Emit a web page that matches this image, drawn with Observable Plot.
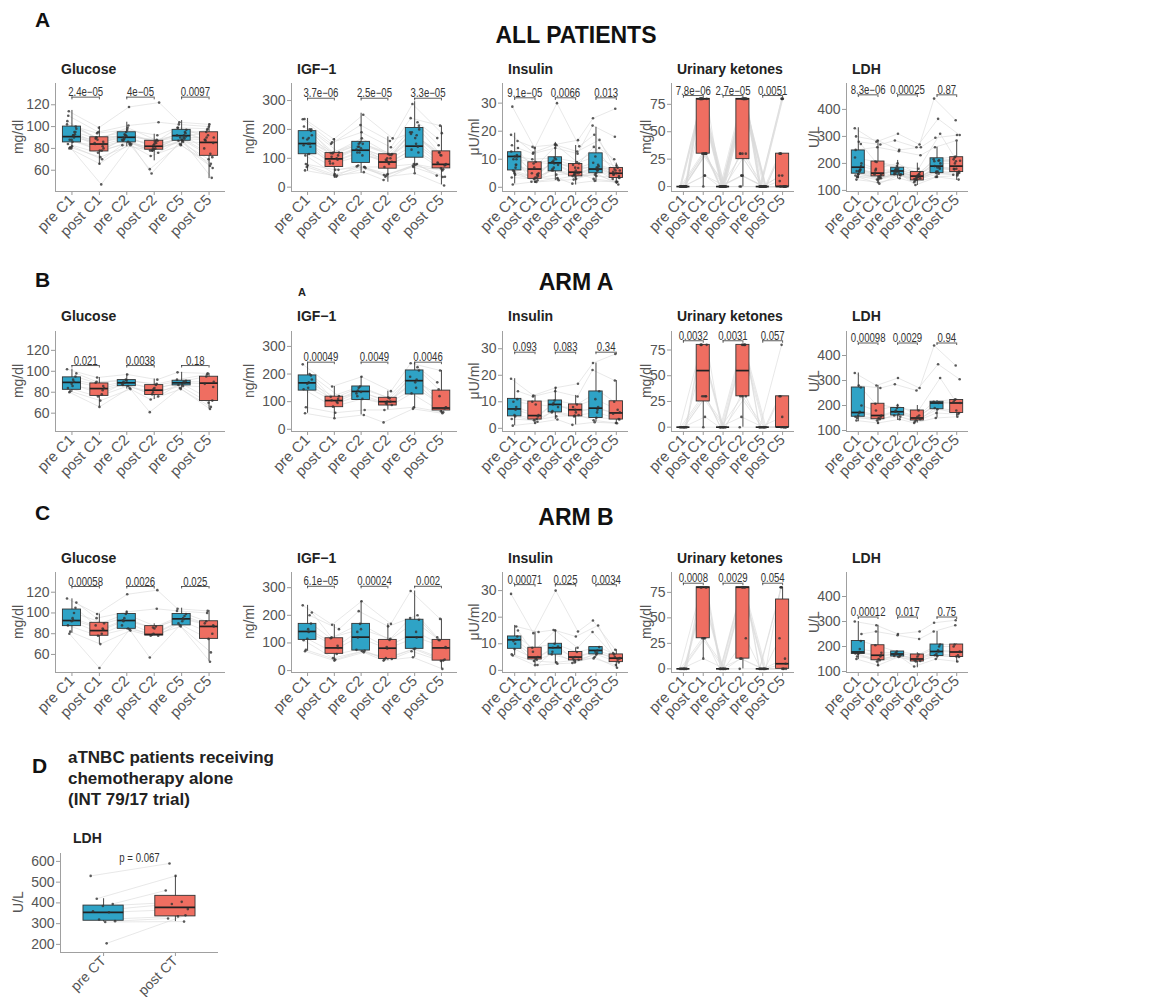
<!DOCTYPE html>
<html>
<head>
<meta charset="utf-8">
<script src="https://cdn.jsdelivr.net/npm/d3@7"></script>
<script src="https://cdn.jsdelivr.net/npm/@observablehq/plot@0.6"></script>
<style>
  body { margin: 0; background: #fff; }
  #fig { position: relative; width: 1153px; height: 997px; overflow: hidden; background: #fff;
         font-family: "Liberation Sans", Arial, Helvetica, sans-serif; }
  .panel { position: absolute; }
  .panel svg { overflow: visible; background: transparent; }
  .panel svg g[aria-label="x-axis tick label"], .panel svg g[aria-label="x-axis"] text { font-size: 15px; }
  .panel.small svg g[aria-label="x-axis tick label"], .panel.small svg g[aria-label="x-axis"] text { font-size: 14px; }
  .panel svg g[aria-label="y-axis tick label"], .panel svg g[aria-label="y-axis"] text { font-size: 14px; }
  .panel svg g[aria-label="x-axis tick"] path, .panel svg g[aria-label="y-axis tick"] path,
  .panel svg g[aria-label="x-axis"] line, .panel svg g[aria-label="y-axis"] line { stroke: #9a9a9a; }
  #overlay { position: absolute; left: 0; top: 0; pointer-events: none; }
</style>
</head>
<body>
<div id="fig"></div>
<script>
// ---- categories and labels ----
const timepoints = ["pre C1", "post C1", "pre C2", "post C2", "pre C5", "post C5"];
const timepointsD = ["pre CT", "post CT"];
const cohortNames = ["ALL PATIENTS", "ARM A", "ARM B"];
const cohortLetters = ["A", "B", "C"];
const markerNames = ["Glucose", "IGF−1", "Insulin", "Urinary ketones", "LDH"];
const markerUnits = ["mg/dl", "ng/ml", "μU/ml", "mg/dl", "U/L"];
const markerTicks = [[60, 80, 100, 120], [0, 100, 200, 300], [0, 10, 20, 30], [0, 25, 50, 75], [100, 200, 300, 400]];
const ldhTicksD = [200, 300, 400, 500, 600];

// ---- box summaries: [lower whisker, Q1, median, Q3, upper whisker] per time point ----
const glucoseAllBox = [[79.4, 85.5, 90.8, 100, 114.8], [65, 77.2, 84, 90.2, 100], [81.5, 85.5, 90.2, 94.8, 104], [68.6, 78.8, 82, 87, 93], [82, 87, 91.7, 97, 105.5], [52.3, 73.2, 85.5, 94.8, 102.5]];
const igf1AllBox = [[55, 114, 151, 194, 238], [30, 70, 98, 118, 168], [48, 84, 128, 157, 256], [17, 64, 87, 114, 174], [50, 102, 142, 205, 296], [8, 65, 79, 124, 212]];
const insulinAllBox = [[1.2, 6, 11, 12.5, 19.3], [1.4, 3, 6.5, 8.9, 14.3], [2.4, 5.7, 8.7, 10.7, 16], [0.8, 3.9, 5.4, 8.3, 14.9], [1.8, 5, 6.5, 12.1, 21.4], [1, 3.3, 5, 6.9, 8.6]];
const ketonesAllBox = [[0, 0, 0, 0, 0], [0, 30, 80, 80, 80], [0, 0, 0, 0, 0], [0, 25, 80, 80, 80], [0, 0, 0, 0, 0], [0, 0, 0, 30, 30]];
const ldhAllBox = [[143, 162, 186, 248, 332], [131, 152, 164, 207, 285], [143, 156, 172, 184, 211], [118, 137, 153, 168, 201], [146, 164, 190, 219, 260], [137, 168, 190, 223, 280]];

const glucoseArmABox = [[80, 82.3, 89.4, 94.2, 102], [66, 76.5, 83.5, 88.4, 94], [83, 85.8, 89, 91.6, 97.4], [73, 77.4, 82, 86.8, 92.6], [83, 86.5, 89, 91, 99], [64, 71.6, 88.7, 94.8, 98]];
const igf1ArmABox = [[58, 140, 168, 195, 237], [40, 80, 104, 118, 155], [52, 106, 137, 155, 191], [70, 86, 100, 114, 138], [74, 126, 176, 213, 239], [58, 68, 77, 140, 213]];
const insulinArmABox = [[1, 4.5, 7.3, 11.1, 18.7], [2, 3.3, 4.8, 10.1, 12.4], [3.3, 6, 9, 10.5, 15.3], [1.3, 4.5, 7, 9, 12.4], [2.3, 3.9, 7.6, 13.9, 24.6], [1.9, 3.3, 5.8, 10.2, 18]];
const ketonesArmABox = [[0, 0, 0, 0, 0], [0, 25, 55, 80, 80], [0, 0, 0, 0, 0], [0, 30, 55, 80, 80], [0, 0, 0, 0, 0], [0, 0, 0, 30, 30]];
const ldhArmABox = [[135, 155, 172, 272, 330], [125, 145, 160, 207, 280], [140, 160, 175, 190, 205], [130, 140, 150, 180, 200], [150, 185, 210, 215, 220], [155, 170, 210, 222, 225]];

const glucoseArmBBox = [[80.5, 87.3, 92.7, 103.3, 113.6], [70, 78, 83, 90.5, 99], [83.7, 84.7, 92.7, 99, 101.7], [78, 78.3, 79.3, 87.3, 89.5], [87.3, 88, 94.3, 99, 104.6], [53.3, 75, 87, 92, 102.4]];
const igf1ArmBBox = [[70, 111, 141.5, 169, 236], [36, 60.5, 82, 117, 166], [66, 72.5, 121, 169, 251], [36, 42, 81, 111, 169], [48, 78.6, 121, 184, 288], [6, 36, 82, 111, 187]];
const insulinArmBBox = [[5.6, 8.1, 11.5, 12.75, 16.9], [1.9, 4.1, 5, 8.5, 14.4], [2.5, 5.9, 8.5, 10, 15.2], [2.75, 3.75, 5, 6.9, 8.5], [5, 6, 7.5, 8.75, 8.75], [1, 3.1, 4.6, 6, 7.75]];
const ketonesArmBBox = [[0, 0, 0, 0, 0], [10, 30, 80, 80, 80], [0, 0, 0, 0, 0], [0, 10, 80, 80, 80], [0, 0, 0, 0, 0], [0, 0, 5, 68, 80]];
const ldhArmBBox = [[148, 170, 178, 222, 300], [120, 145, 165, 205, 285], [155, 160, 170, 180, 180], [115, 140, 150, 168, 175], [150, 162, 180, 208, 260], [135, 158, 178, 208, 210]];

const ldhChemoBox = [[308, 314, 354, 387, 420], [310, 335, 378, 434, 530]];

// ---- individual patient values per time point (same position = same patient) ----
const glucoseArmAPts = [[102, 92, 80, 95, 88, 84, 90, 81, 98, 86], [94, 86, 66, 89, 78, 76, 84, 72, 90, 82], [97, 90, 84, 92, 88, 86, 89, 83, 91, 87], [92, 83, 61, 87, 78, 76, 84, 73, 88, 80], [99, 90, 84, 91, 88, 87, 89, 83, 92, 86], [98, 90, 64, 95, 72, 70, 88, 66, 97, 85]];
const igf1ArmAPts = [[235, 170, 58, 195, 165, 145, 200, 80, 180, 150], [155, 110, 40, 118, 100, 82, 120, 60, 105, 95], [190, 140, 52, 155, 130, 110, 150, 70, 135, 120], [138, 100, 25, 112, 95, 88, 115, 70, 100, 92], [239, 180, 74, 213, 170, 130, 225, 80, 190, 150], [213, 80, 58, 145, 75, 65, 170, 62, 120, 78]];
const insulinArmAPts = [[18.7, 7, 1, 11, 5, 3.5, 8, 10, 14, 4.5], [12.4, 4.5, 2, 10, 3.5, 3, 5, 9, 12, 2.5], [15.3, 9, 3.3, 10.5, 6, 4.5, 9.5, 8, 14, 6.5], [16.8, 7, 1.3, 9, 4.5, 5, 6, 8, 12, 4.8], [24.6, 7, 2.3, 14, 4, 3, 8, 11, 22, 6], [28, 6, 1.9, 10, 3.5, 2, 5.5, 7, 18, 3.3]];
const ketonesArmAPts = [[0, 0, 0, 0, 0, 0, 0, 0, 0, 0], [80, 30, 0, 80, 10, 30, 80, 30, 80, 30], [0, 0, 0, 0, 0, 0, 0, 0, 0, 0], [80, 30, 0, 80, 10, 30, 80, 30, 80, 80], [0, 0, 0, 0, 0, 0, 0, 0, 0, 0], [80, 0, 0, 30, 0, 10, 30, 0, 0, 0]];
const ldhArmAPts = [[330, 170, 140, 272, 160, 155, 175, 150, 200, 280], [280, 155, 130, 207, 145, 140, 160, 150, 180, 270], [310, 175, 145, 190, 160, 165, 180, 155, 200, 285], [270, 150, 130, 180, 140, 145, 155, 135, 160, 260], [440, 210, 150, 310, 185, 190, 212, 170, 215, 365], [360, 210, 155, 222, 170, 180, 215, 165, 225, 305]];

const glucoseArmBPts = [[114, 93, 80, 105, 92, 88, 100, 82, 110, 95], [99, 84, 47, 88, 80, 78, 90, 70, 95, 85], [118, 92, 84, 99, 88, 85, 95, 83, 101, 93], [122, 80, 57, 87, 79, 78, 85, 78, 104, 86], [104, 94, 88, 99, 92, 90, 97, 87, 102, 95], [102, 87, 53, 92, 80, 75, 90, 62, 100, 88]];
const igf1ArmBPts = [[236, 140, 70, 170, 115, 110, 200, 75, 210, 150], [166, 82, 36, 117, 60, 45, 150, 40, 120, 90], [251, 120, 66, 169, 75, 70, 215, 72, 150, 140], [169, 80, 36, 111, 45, 42, 160, 40, 115, 85], [288, 120, 48, 184, 80, 70, 200, 78, 190, 140], [187, 82, 6, 111, 40, 35, 120, 36, 110, 85]];
const insulinArmBPts = [[28.75, 11.5, 5.6, 12.75, 8, 6, 16.5, 11, 15, 10], [14, 5, 1.9, 8.5, 4, 3.5, 14.4, 4.5, 7, 2], [30, 8.5, 2.5, 10, 6, 3, 15.2, 9, 15, 7], [14.6, 5, 2.75, 6.9, 3.75, 4, 12.75, 4.5, 8.5, 3], [18.75, 7.5, 5, 8.75, 6, 4.5, 16.9, 7, 14.4, 6.5], [7.75, 4.6, 1, 6, 3, 2, 6.5, 4, 5, 4.5]];
const ketonesArmBPts = [[0, 0, 0, 0, 0, 0, 0, 0, 0, 0], [80, 80, 10, 80, 30, 30, 80, 30, 80, 80], [0, 0, 0, 0, 0, 0, 0, 0, 0, 0], [80, 80, 0, 80, 10, 30, 80, 10, 80, 80], [0, 0, 0, 0, 0, 0, 0, 0, 0, 0], [80, 0, 0, 80, 10, 0, 30, 0, 80, 5]];
const ldhArmBPts = [[300, 178, 150, 222, 170, 172, 190, 160, 250, 175], [285, 165, 125, 205, 145, 140, 175, 150, 260, 160], [250, 170, 160, 180, 162, 158, 175, 165, 245, 170], [260, 150, 120, 168, 140, 142, 160, 145, 230, 150], [295, 180, 150, 208, 162, 165, 200, 170, 260, 185], [305, 178, 140, 208, 158, 160, 200, 165, 285, 180]];

const ldhChemoPts = [[530, 205, 420, 395, 385, 360, 355, 320, 312, 308], [590, 340, 530, 460, 405, 395, 370, 335, 325, 310]];

// ---- paired-test p-values (pre vs post of each cycle) ----
const glucoseAllP = ["2.4e−05", "4e−05", "0.0097"];
const igf1AllP = ["3.7e−06", "2.5e−05", "3.3e−05"];
const insulinAllP = ["9.1e−05", "0.0066", "0.013"];
const ketonesAllP = ["7.8e−06", "2.7e−05", "0.0051"];
const ldhAllP = ["8.3e−06", "0.00025", "0.87"];
const glucoseArmAP = ["0.021", "0.0038", "0.18"];
const igf1ArmAP = ["0.00049", "0.0049", "0.0046"];
const insulinArmAP = ["0.093", "0.083", "0.34"];
const ketonesArmAP = ["0.0032", "0.0031", "0.057"];
const ldhArmAP = ["0.00098", "0.0029", "0.94"];
const glucoseArmBP = ["0.00058", "0.0026", "0.025"];
const igf1ArmBP = ["6.1e−05", "0.00024", "0.002"];
const insulinArmBP = ["0.00071", "0.025", "0.0034"];
const ketonesArmBP = ["0.0008", "0.0029", "0.054"];
const ldhArmBP = ["0.00012", "0.017", "0.75"];
const ldhChemoP = "p = 0.067";

// ---- assemble cohorts (all patients = arm A + arm B) ----
const armABoxes = [glucoseArmABox, igf1ArmABox, insulinArmABox, ketonesArmABox, ldhArmABox];
const armBBoxes = [glucoseArmBBox, igf1ArmBBox, insulinArmBBox, ketonesArmBBox, ldhArmBBox];
const allBoxes = [glucoseAllBox, igf1AllBox, insulinAllBox, ketonesAllBox, ldhAllBox];
const armAPts = [glucoseArmAPts, igf1ArmAPts, insulinArmAPts, ketonesArmAPts, ldhArmAPts];
const armBPts = [glucoseArmBPts, igf1ArmBPts, insulinArmBPts, ketonesArmBPts, ldhArmBPts];
const allPts = armAPts.map((m, j) => m.map((vals, i) => vals.concat(armBPts[j][i])));
const cohortBoxes = [allBoxes, armABoxes, armBBoxes];
const cohortPts = [allPts, armAPts, armBPts];
const cohortP = [
  [glucoseAllP, igf1AllP, insulinAllP, ketonesAllP, ldhAllP],
  [glucoseArmAP, igf1ArmAP, insulinArmAP, ketonesArmAP, ldhArmAP],
  [glucoseArmBP, igf1ArmBP, insulinArmBP, ketonesArmBP, ldhArmBP]
];

// ---- layout ----
const BLUE = "#2fa3c6", RED = "#ef6e61";
const colLayout = [
  {left: 55, width: 170, unitX: 19},
  {left: 291, width: 166, unitX: 250},
  {left: 502, width: 126, unitX: 475},
  {left: 671, width: 123, unitX: 647},
  {left: 846, width: 122, unitX: 815}
];
const rowLayout = [
  {top: 83, height: 108, titleY: 74, letterY: 27, headY: 43,
   domains: [[40.5, 139.5], [-15, 359], [-1.5, 37], [-4.5, 94], [96, 496]],
   bracketY: [127, 308, 31.9, 83, 454]},
  {top: 331, height: 100, titleY: 321, letterY: 287, headY: 290,
   domains: [[42.5, 138], [-8, 354], [-1.2, 36.5], [-4.2, 93], [96, 496]],
   bracketY: [105.5, 243, 28.7, 84, 450]},
  {top: 572, height: 100, titleY: 563, letterY: 520, headY: 525,
   domains: [[42.6, 139], [-7, 355], [-0.8, 36.8], [-3.6, 94.5], [96, 496]],
   bracketY: [125.5, 305, 32.25, 84, 318]}
];

const fig = document.getElementById("fig");

// spread of the points around each time point (deterministic)
const spread = (k, i) => (((k * 0.6180339 + i * 0.2718) % 1) - 0.5) * 0.36;

function boxPanel({x0, y0, w, h, domain, ticks, labels, boxes, series, bracketY, pvals, pText, half, small}) {
  const mL = 40, mR = 6, mB = 60;
  const n = labels.length;
  const span = domain[1] - domain[0];
  const boxRows = boxes.map(([lo, q1, med, q3, hi], i) => ({i, lo, q1, med, q3, hi}));
  const ptRows = [];
  series.forEach((vals, i) => vals.forEach((v, k) => ptRows.push({i, k, v, x: i + spread(k, i)})));
  ptRows.sort((a, b) => a.k - b.k || a.i - b.i);
  const marks = [
    Plot.line(ptRows, {x: "x", y: "v", z: "k", stroke: "#d9d9d9", strokeWidth: 0.6}),
    Plot.ruleX(boxRows, {x: "i", y1: "lo", y2: "hi", stroke: "#333", strokeWidth: 0.9}),
    Plot.rect(boxRows.filter(d => d.i % 2 === 0), {x1: d => d.i - half, x2: d => d.i + half, y1: "q1", y2: "q3", fill: BLUE, stroke: "#333", strokeWidth: 0.9}),
    Plot.rect(boxRows.filter(d => d.i % 2 === 1), {x1: d => d.i - half, x2: d => d.i + half, y1: "q1", y2: "q3", fill: RED, stroke: "#333", strokeWidth: 0.9}),
    Plot.ruleY(boxRows, {x1: d => d.i - half, x2: d => d.i + half, y: "med", stroke: "#222", strokeWidth: 1.7}),
    Plot.dot(ptRows, {x: "x", y: "v", r: 1.3, fill: "#333", fillOpacity: 0.8, stroke: null}),
    Plot.ruleY([domain[0]], {stroke: "#a0a0a0", strokeWidth: 1}),
    Plot.ruleX([-0.6], {stroke: "#a0a0a0", strokeWidth: 1})
  ];
  if (pvals) {
    const br = pvals.map((label, j) => ({x1: 2 * j, x2: 2 * j + 1, xm: 2 * j + 0.5, y: bracketY, label}));
    const ends = br.flatMap(d => [{x: d.x1, y: d.y}, {x: d.x2, y: d.y}]);
    marks.push(
      Plot.ruleY(br, {x1: "x1", x2: "x2", y: "y", stroke: "#333", strokeWidth: 0.8}),
      Plot.ruleX(ends, {x: "x", y1: "y", y2: d => d.y - span * 0.025, stroke: "#333", strokeWidth: 0.8}),
      Plot.text(br, {x: "xm", y: "y", text: "label", lineAnchor: "bottom", dy: -1, fontSize: 12, fill: "#333", className: "pval"})
    );
  }
  if (pText) {
    marks.push(Plot.text([pText.label], {x: pText.x, y: pText.y, text: d => d, fontSize: 12, fill: "#333", className: "pval"}));
  }
  const chart = Plot.plot({
    width: w + mL + mR, height: h + mB,
    marginLeft: mL, marginRight: mR, marginTop: 0, marginBottom: mB,
    style: {fontFamily: '"Liberation Sans", Arial, Helvetica, sans-serif', fontSize: "14px", color: "#555", background: "transparent", overflow: "visible"},
    x: {type: "linear", domain: [-0.6, n - 0.4], ticks: d3.range(n), tickFormat: i => labels[i], tickRotate: -45, tickSize: 4, tickPadding: 2, label: null},
    y: {domain, ticks, tickSize: 4, tickPadding: 2, label: null},
    marks
  });
  const holder = document.createElement("div");
  holder.className = small ? "panel small" : "panel";
  holder.style.left = (x0 - mL) + "px";
  holder.style.top = y0 + "px";
  holder.appendChild(chart);
  fig.appendChild(holder);
  // the p-value labels use a narrow setting of the type
  holder.querySelectorAll(".pval text").forEach(t => {
    const len = t.getComputedTextLength();
    if (len > 0) {
      t.setAttribute("textLength", (len * 0.8).toFixed(1));
      t.setAttribute("lengthAdjust", "spacingAndGlyphs");
    }
  });
}

// ---- the fifteen cohort panels ----
rowLayout.forEach((row, r) => {
  colLayout.forEach((col, c) => {
    boxPanel({
      x0: col.left, y0: row.top, w: col.width, h: row.height,
      domain: row.domains[c], ticks: markerTicks[c], labels: timepoints,
      boxes: cohortBoxes[r][c], series: cohortPts[r][c],
      bracketY: row.bracketY[c], pvals: cohortP[r][c], half: 0.33
    });
  });
});

// ---- chemotherapy-alone LDH panel ----
boxPanel({
  x0: 60, y0: 853, w: 158, h: 99, domain: [161, 638], ticks: ldhTicksD, labels: timepointsD,
  boxes: ldhChemoBox, series: ldhChemoPts, pText: {label: ldhChemoP, x: 0.5, y: 614}, half: 0.28, small: true
});

// ---- headings, panel titles and unit labels ----
const svg = d3.select(fig).append("svg").attr("id", "overlay").attr("width", 1153).attr("height", 997)
  .style("font-family", '"Liberation Sans", Arial, Helvetica, sans-serif');

function label(t, x, y, size, weight, anchor = "start", fill = "#111", rotate = false) {
  const el = svg.append("text").attr("font-size", size).attr("font-weight", weight)
    .attr("fill", fill).attr("text-anchor", anchor).text(t);
  if (rotate) el.attr("transform", `translate(${x},${y}) rotate(-90)`).attr("dominant-baseline", "middle");
  else el.attr("x", x).attr("y", y);
  return el;
}

rowLayout.forEach((row, r) => {
  label(cohortLetters[r], 35, row.letterY, 21, "bold");
  label(cohortNames[r], 576, row.headY, 23, "bold", "middle");
  colLayout.forEach((col, c) => {
    label(markerNames[c], col.left + 6, row.titleY, 14, "bold", "start", "#222");
    label(markerUnits[c], col.unitX, row.top + row.height / 2, 14, "normal", "middle", "#555", true);
  });
});
label("A", 298, 296, 11, "bold", "start", "#222");

label("D", 32, 773, 21, "bold");
["aTNBC patients receiving", "chemotherapy alone", "(INT 79/17 trial)"].forEach((t, i) =>
  label(t, 68, 763 + i * 21, 17, "bold", "start", "#222"));
label("LDH", 73, 843, 14, "bold", "start", "#222");
label("U/L", 19, 902, 14, "normal", "middle", "#555", true);
</script>
</body>
</html>
